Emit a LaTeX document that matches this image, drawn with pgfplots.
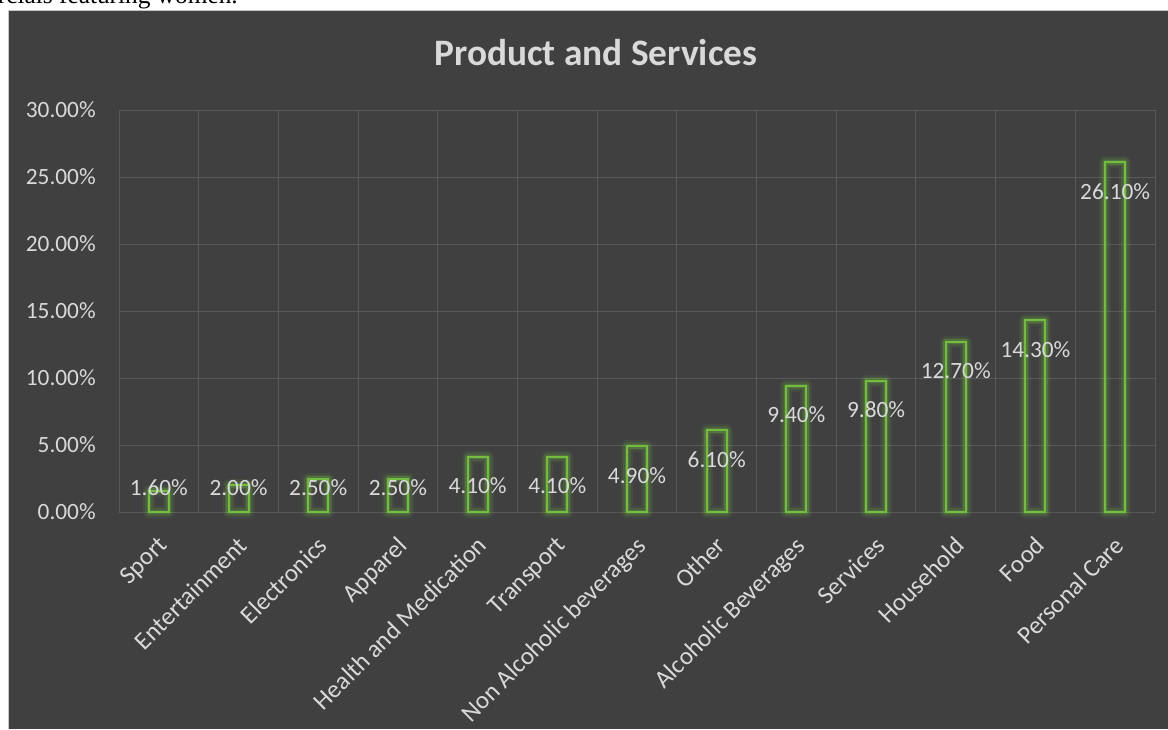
\documentclass[border=0pt]{standalone}
\usepackage{fontspec}
\setmainfont{Carlito}
\newfontfamily\timesfont{Liberation Serif}
\usepackage{pgfplots}
\pgfplotsset{compat=1.18}
\usepackage{pgfplotstable}
\definecolor{bg}{RGB}{64,64,64}
\definecolor{gridc}{RGB}{89,89,89}
\definecolor{txt}{RGB}{217,217,217}
\definecolor{barg}{RGB}{114,188,64}

\pgfplotstableread{
x y ly label
0 1.6 1.79 1.60
1 2.0 1.79 2.00
2 2.5 1.79 2.50
3 2.5 1.79 2.50
4 4.1 1.94 4.10
5 4.1 1.94 4.10
6 4.9 2.74 4.90
7 6.1 3.94 6.10
8 9.4 7.24 9.40
9 9.8 7.64 9.80
10 12.7 10.54 12.70
11 14.3 12.14 14.30
12 26.1 23.94 26.10
}\data

\begin{document}
\begin{tikzpicture}
\useasboundingbox (0,0) rectangle (876pt,546.75pt);
\fill[white] (0,0) rectangle (876pt,546.75pt);
\node[anchor=base east, inner sep=0pt, font=\timesfont\fontsize{19}{22}\selectfont, text=black] at (178.5pt,543.75pt) {commercials featuring women.};
\fill[bg] (6.375pt,0) rectangle (876pt,538.5pt);
\draw[gray!45, line width=0.75pt] (6.375pt,0) -- (6.375pt,538.5pt) -- (876pt,538.5pt);
\node[font=\fontsize{28}{34}\selectfont\bfseries, text=txt] at (447pt,507pt) {Product and Services};
\begin{axis}[
  at={(89.25pt,162.75pt)}, anchor=south west,
  scale only axis, width=777pt, height=301.5pt,
  xmin=-0.5, xmax=12.5, ymin=0, ymax=30,
  clip=false,
  axis line style={draw=none},
  major tick length=0pt, minor tick length=0pt,
  xtick={0,...,12},
  xticklabels={Sport,Entertainment,Electronics,Apparel,Health and Medication,Transport,Non Alcoholic beverages,Other,Alcoholic Beverages,Services,Household,Food,Personal Care},
  minor xtick={-0.5,0.5,...,12.5},
  xminorgrids, ymajorgrids,
  major grid style={gridc, line width=0.75pt},
  minor grid style={gridc, line width=0.75pt},
  ytick={0,5,...,30},
  yticklabels={0.00\%,5.00\%,10.00\%,15.00\%,20.00\%,25.00\%,30.00\%},
  ticklabel style={font=\fontsize{17.5}{21}\selectfont, text=txt},
  yticklabel style={anchor=east, inner sep=0pt, xshift=-17.25pt},
  xticklabel style={font=\fontsize{18.75}{22}\selectfont, inner sep=0pt, xshift=-1.5pt, yshift=-17pt, rotate=45, anchor=north east},
]
\addplot[ybar, bar width=15pt, bar shift=0pt, draw=barg, draw opacity=0.09, line width=9pt, fill=none, line join=round] table[x=x,y=y]{\data};
\addplot[ybar, bar width=15pt, bar shift=0pt, draw=barg, draw opacity=0.15, line width=6pt, fill=none, line join=round] table[x=x,y=y]{\data};
\addplot[ybar, bar width=15pt, bar shift=0pt, draw=barg, draw opacity=0.25, line width=3.5pt, fill=none, line join=round] table[x=x,y=y]{\data};
\addplot[ybar, bar width=15pt, bar shift=0pt, draw=barg, line width=1.5pt, fill=none] table[x=x,y=y]{\data};
\addplot[draw=none, mark=none, nodes near coords={\pgfplotspointmeta\%}, point meta=explicit symbolic,
  nodes near coords style={anchor=center, inner sep=0pt, font=\fontsize{17.5}{21}\selectfont, text=txt}]
  table[x=x,y=ly,meta=label]{\data};
\end{axis}
\end{tikzpicture}
\end{document}
